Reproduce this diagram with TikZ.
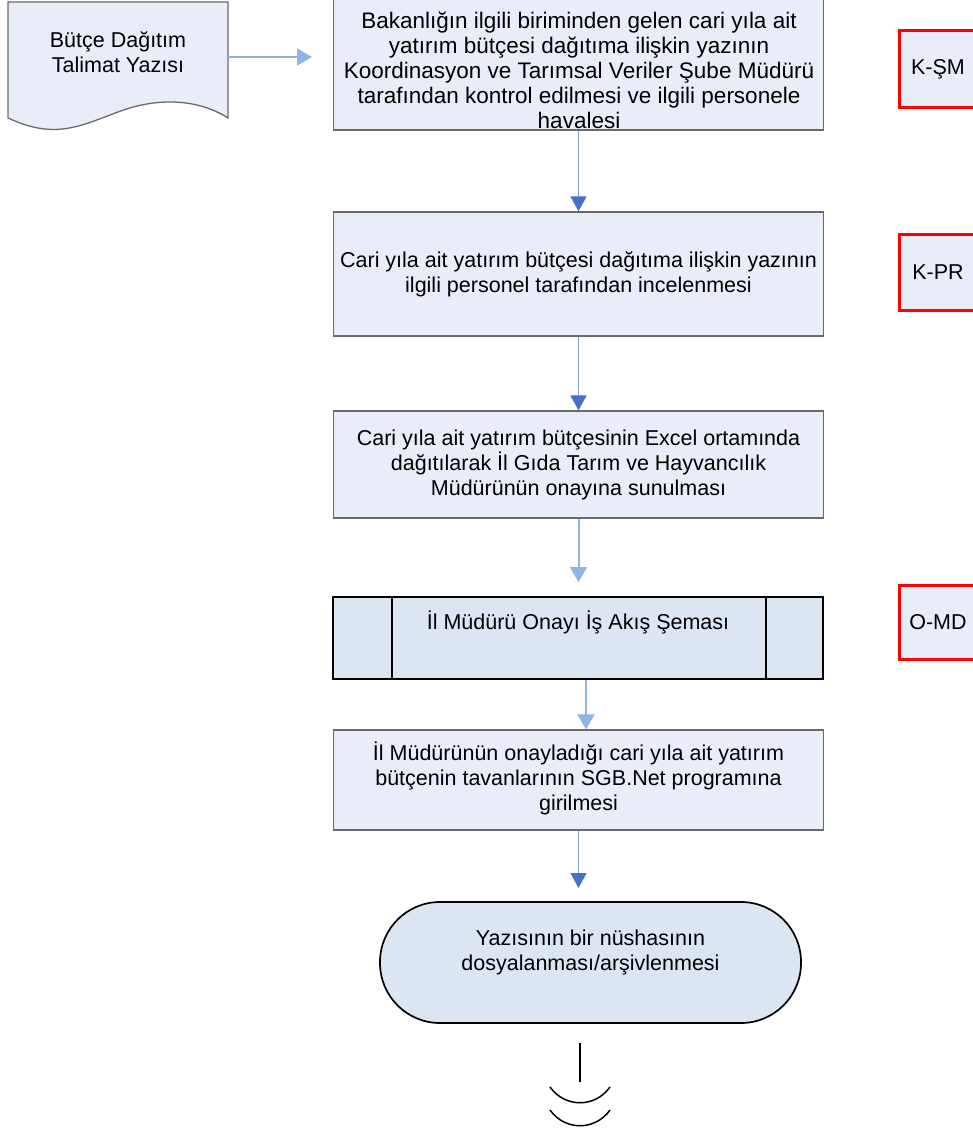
\documentclass[tikz,border=0pt]{standalone}
\usepackage{fontspec}
\setmainfont{Liberation Sans}
\usetikzlibrary{arrows.meta}
\definecolor{boxfill}{HTML}{E9EDF7}
\definecolor{boxline}{HTML}{6A6A6A}
\definecolor{subfill}{HTML}{DCE6F2}
\definecolor{lightarr}{HTML}{8DB4E2}
\definecolor{midarr}{HTML}{7EA3D8}
\definecolor{darkhead}{HTML}{4472C4}
\tikzset{
  txt/.style={align=center, font=\fontsize{21.5}{25}\selectfont, inner sep=0pt},
  bigtxt/.style={align=center, font=\fontsize{22.5}{25}\selectfont, inner sep=0pt},
  proc/.style={txt, draw=boxline, fill=boxfill, line width=1.3pt, minimum width=490pt},
  subp/.style={draw=black, fill=subfill, line width=1.7pt},
  redbox/.style={txt, draw=red, fill=boxfill, line width=3pt, minimum width=78pt},
  lightflow/.style={draw=lightarr, line width=2pt, -{Triangle[width=17pt,length=15pt]}},
  darkflow/.style={draw=midarr, line width=1.6pt, -{Triangle[width=16pt,length=15pt,fill=darkhead,color=darkhead]}},
}
\begin{document}
\begin{tikzpicture}[x=1pt,y=-1pt]
\useasboundingbox (0,0) rectangle (972,1131);
% document shape
\node[draw=none, minimum width=220pt, minimum height=116pt, inner sep=0pt] (doc) at (118,60) {};
\draw[draw=boxline, fill=boxfill, line width=1.3pt]
  (8,2) -- (228,2) -- (228,118)
  .. controls (200,100) and (160,96) .. (118,112)
  .. controls (80,126) and (55,140) .. (8,118) -- cycle;
\node[txt] (doctxt) at (118,52) {Bütçe Dağıtım\\Talimat Yazısı};
\coordinate (docend) at (312,57);
\draw[lightflow] ([yshift=3pt]doc.east) -- (docend);

% step 1
\node[proc, minimum height=140pt] (b1) at (578.5,60) {};
\node[bigtxt] (t1) at (579,70) {Bakanlığın ilgili biriminden gelen cari yıla ait\\yatırım bütçesi dağıtıma ilişkin yazının\\Koordinasyon ve Tarımsal Veriler Şube Müdürü\\tarafından kontrol edilmesi ve ilgili personele\\havalesi};

% step 2
\node[proc, minimum height=124pt] (b2) at (578.5,274) {Cari yıla ait yatırım bütçesi dağıtıma ilişkin yazının\\ilgili personel tarafından incelenmesi};

% step 3
\node[proc, minimum height=107pt] (b3) at (578.5,464.5) {Cari yıla ait yatırım bütçesinin Excel ortamında\\dağıtılarak İl Gıda Tarım ve Hayvancılık\\Müdürünün onayına sunulması};

% subprocess
\node[subp, minimum width=490pt, minimum height=82pt, inner sep=0pt] (sub) at (578,638) {};
\draw[line width=1.7pt] ([xshift=60pt]sub.north west) -- ([xshift=60pt]sub.south west);
\draw[line width=1.7pt] ([xshift=-58pt]sub.north east) -- ([xshift=-58pt]sub.south east);
\node[txt] (subtxt) at (578,622) {İl Müdürü Onayı İş Akış Şeması};

% step 5
\node[proc, minimum height=100pt] (b5) at (578.5,780) {};
\node[txt] (t5) at (578.5,778) {İl Müdürünün onayladığı cari yıla ait yatırım\\bütçenin tavanlarının SGB.Net programına\\girilmesi};

% terminal
\node[subp, minimum width=421pt, minimum height=121pt, rounded corners=60pt, inner sep=0pt] (term) at (590.5,962.5) {};
\node[txt] (termtxt) at (590.5,952) {Yazısının bir nüshasının\\dosyalanması/arşivlenmesi};

% red boxes
\node[redbox, minimum height=77pt] (ksm) at (938,69.5) {K-ŞM};
\node[redbox, minimum height=75pt] (kpr) at (938,272.5) {K-PR};
\node[redbox, minimum height=74pt] (omd) at (938,622) {O-MD};

% connectors
\draw[darkflow] (b1.south) -- (b2.north);
\draw[darkflow] (b2.south) -- (b3.north);
\coordinate (c3) at (578.5,582);
\draw[lightflow] (b3.south) -- (c3);
\draw[lightflow] ([xshift=8pt]sub.south) -- ([xshift=8pt]sub.south |- b5.north);
\coordinate (c5) at (578.5,888);
\draw[darkflow] (b5.south) -- (c5);

% end symbol
\coordinate (e0) at (580,1043);
\coordinate (e1) at (580,1082);
\draw[line width=1.5pt] (e0) -- (e1);
\draw[line width=1.5pt] (550,1087) .. controls (565,1108) and (595,1108) .. (610,1087);
\draw[line width=1.5pt] (550,1110) .. controls (565,1131) and (595,1131) .. (610,1110);
\end{tikzpicture}
\end{document}
